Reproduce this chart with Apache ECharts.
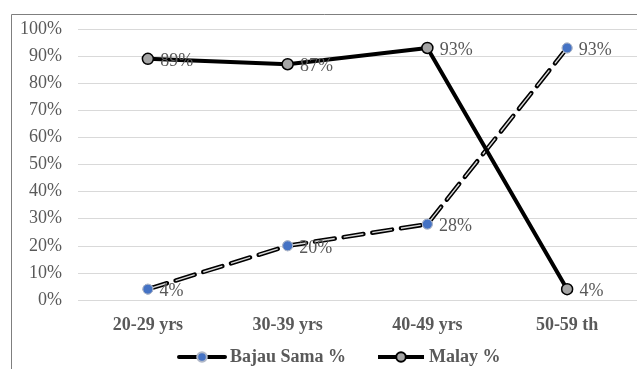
<!DOCTYPE html>
<html>
<head>
<meta charset="utf-8">
<script src="https://cdn.jsdelivr.net/npm/echarts@6/dist/echarts.min.js"></script>
<style>
  html, body { margin: 0; padding: 0; background: #fff; }
  #chart { width: 637px; height: 369px; }
</style>
</head>
<body>
<div id="chart"></div>
<script>
// Age groups along the x axis
const ageGroups = ['20-29 yrs', '30-39 yrs', '40-49 yrs', '50-59 th'];
// Share of respondents per age group (%)
const bajauSama = [4, 20, 28, 93];
const malay = [89, 87, 93, 4];
// Value axis ticks (%)
const yTicks = { min: 0, max: 100, step: 10 };

const serif = '"Liberation Serif", "Times New Roman", serif';
const grey = '#595959';

const chart = echarts.init(document.getElementById('chart'));

const pointLabel = {
  show: true,
  position: 'right',
  distance: 6,
  offset: [0, 2],
  formatter: '{c}%',
  fontFamily: serif,
  fontSize: 18,
  color: grey
};

chart.setOption({
  animation: false,
  graphic: [{
    type: 'rect',
    shape: { x: 11.5, y: 14.5, width: 700, height: 400 },
    style: { fill: 'none', stroke: '#7f7f7f', lineWidth: 1 },
    z: -1
  }],
  grid: { left: 78, right: -1, top: 29, bottom: 69 },
  legend: {
    left: 172,
    top: 343,
    itemWidth: 46,
    itemHeight: 12,
    itemGap: 30,
    data: ['Bajau Sama %', 'Malay %'],
    lineStyle: { width: 4 },
    textStyle: { fontFamily: serif, fontSize: 18, fontWeight: 'bold', color: grey }
  },
  xAxis: {
    type: 'category',
    data: ageGroups,
    boundaryGap: true,
    axisLine: { show: false },
    axisTick: { show: false },
    axisLabel: { margin: 16, fontFamily: serif, fontSize: 18, fontWeight: 'bold', color: grey }
  },
  yAxis: {
    type: 'value',
    min: yTicks.min,
    max: yTicks.max,
    interval: yTicks.step,
    axisLine: { show: false },
    axisTick: { show: false },
    splitLine: { lineStyle: { color: '#d9d9d9', width: 1.2 } },
    axisLabel: { margin: 16, formatter: '{value}%', fontFamily: serif, fontSize: 18, color: grey }
  },
  series: [
    {
      name: 'Bajau Sama %',
      type: 'line',
      data: bajauSama,
      symbol: 'circle',
      symbolSize: 10,
      itemStyle: { color: '#4472c4', borderColor: '#b0b8c8', borderWidth: 1 },
      lineStyle: { color: '#000', width: 4.5, type: [20, 9], cap: 'round' },
      z: 2
    },
    {
      // light core of the compound dashed line
      name: 'Bajau core',
      type: 'line',
      data: bajauSama,
      showSymbol: false,
      silent: true,
      lineStyle: { color: '#d8d8d8', width: 1.4, type: [20, 9] },
      z: 3
    },
    {
      // markers and value labels drawn above the core stroke
      name: 'Bajau markers',
      type: 'line',
      data: bajauSama,
      symbol: 'circle',
      symbolSize: 10,
      silent: true,
      itemStyle: { color: '#4472c4', borderColor: '#b0b8c8', borderWidth: 1 },
      lineStyle: { opacity: 0 },
      label: pointLabel,
      z: 4
    },
    {
      name: 'Malay %',
      type: 'line',
      data: malay,
      symbol: 'circle',
      symbolSize: 11,
      itemStyle: { color: '#a5a5a5', borderColor: '#000', borderWidth: 1.5 },
      lineStyle: { color: '#000', width: 4 },
      label: pointLabel,
      z: 5
    }
  ]
});
</script>
</body>
</html>
